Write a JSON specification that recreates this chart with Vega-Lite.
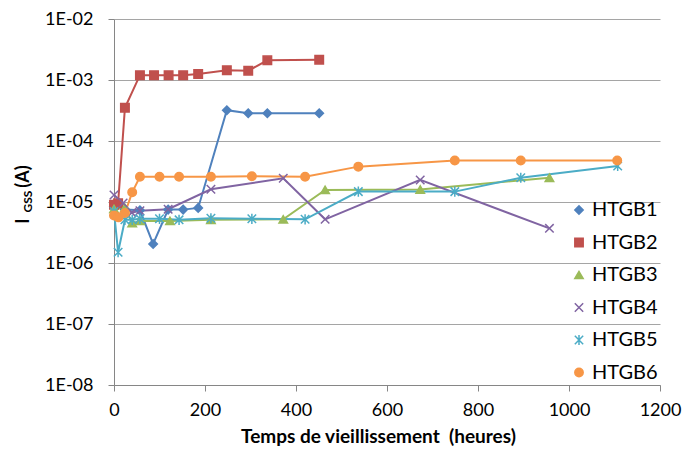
{
  "$schema": "https://vega.github.io/schema/vega-lite/v6.json",
  "width": 546,
  "height": 366,
  "autosize": {"type": "none"},
  "padding": {"left": 114, "top": 19, "right": 24, "bottom": 65},
  "background": "white",
  "config": {
    "view": {"stroke": null},
    "font": "Lato"
  },
  "data": {
    "values": [
      {"s": "HTGB1", "h": 0, "v": 8.5e-6},
      {"s": "HTGB1", "h": 24, "v": 7.5e-6},
      {"s": "HTGB1", "h": 57, "v": 7.3e-6},
      {"s": "HTGB1", "h": 86, "v": 2.05e-6},
      {"s": "HTGB1", "h": 119, "v": 7.5e-6},
      {"s": "HTGB1", "h": 152, "v": 7.5e-6},
      {"s": "HTGB1", "h": 185, "v": 8e-6},
      {"s": "HTGB1", "h": 248, "v": 3.2e-4},
      {"s": "HTGB1", "h": 295, "v": 2.85e-4},
      {"s": "HTGB1", "h": 337, "v": 2.85e-4},
      {"s": "HTGB1", "h": 451, "v": 2.85e-4},
      {"s": "HTGB2", "h": 0, "v": 9e-6},
      {"s": "HTGB2", "h": 9, "v": 9.5e-6},
      {"s": "HTGB2", "h": 24, "v": 3.5e-4},
      {"s": "HTGB2", "h": 57, "v": 1.2e-3},
      {"s": "HTGB2", "h": 88, "v": 1.2e-3},
      {"s": "HTGB2", "h": 120, "v": 1.2e-3},
      {"s": "HTGB2", "h": 152, "v": 1.2e-3},
      {"s": "HTGB2", "h": 185, "v": 1.25e-3},
      {"s": "HTGB2", "h": 248, "v": 1.45e-3},
      {"s": "HTGB2", "h": 295, "v": 1.42e-3},
      {"s": "HTGB2", "h": 337, "v": 2.1e-3},
      {"s": "HTGB2", "h": 451, "v": 2.15e-3},
      {"s": "HTGB3", "h": 0, "v": 7.7e-6},
      {"s": "HTGB3", "h": 24, "v": 8e-6},
      {"s": "HTGB3", "h": 40, "v": 4.5e-6},
      {"s": "HTGB3", "h": 57, "v": 4.9e-6},
      {"s": "HTGB3", "h": 123, "v": 4.9e-6},
      {"s": "HTGB3", "h": 213, "v": 5.1e-6},
      {"s": "HTGB3", "h": 372, "v": 5.2e-6},
      {"s": "HTGB3", "h": 464, "v": 1.58e-5},
      {"s": "HTGB3", "h": 673, "v": 1.6e-5},
      {"s": "HTGB3", "h": 957, "v": 2.5e-5},
      {"s": "HTGB4", "h": 0, "v": 1.3e-5},
      {"s": "HTGB4", "h": 20, "v": 9.6e-6},
      {"s": "HTGB4", "h": 39, "v": 6.7e-6},
      {"s": "HTGB4", "h": 57, "v": 7.2e-6},
      {"s": "HTGB4", "h": 119, "v": 7.6e-6},
      {"s": "HTGB4", "h": 213, "v": 1.62e-5},
      {"s": "HTGB4", "h": 372, "v": 2.45e-5},
      {"s": "HTGB4", "h": 464, "v": 5.2e-6},
      {"s": "HTGB4", "h": 673, "v": 2.3e-5},
      {"s": "HTGB4", "h": 957, "v": 3.7e-6},
      {"s": "HTGB5", "h": 0, "v": 7e-6},
      {"s": "HTGB5", "h": 9, "v": 1.5e-6},
      {"s": "HTGB5", "h": 24, "v": 5.1e-6},
      {"s": "HTGB5", "h": 40, "v": 5.1e-6},
      {"s": "HTGB5", "h": 57, "v": 5.3e-6},
      {"s": "HTGB5", "h": 100, "v": 5.3e-6},
      {"s": "HTGB5", "h": 143, "v": 5.1e-6},
      {"s": "HTGB5", "h": 213, "v": 5.4e-6},
      {"s": "HTGB5", "h": 303, "v": 5.3e-6},
      {"s": "HTGB5", "h": 420, "v": 5.2e-6},
      {"s": "HTGB5", "h": 537, "v": 1.48e-5},
      {"s": "HTGB5", "h": 749, "v": 1.48e-5},
      {"s": "HTGB5", "h": 894, "v": 2.5e-5},
      {"s": "HTGB5", "h": 1107, "v": 3.9e-5},
      {"s": "HTGB6", "h": 0, "v": 6e-6},
      {"s": "HTGB6", "h": 10, "v": 5.6e-6},
      {"s": "HTGB6", "h": 24, "v": 6.6e-6},
      {"s": "HTGB6", "h": 40, "v": 1.44e-5},
      {"s": "HTGB6", "h": 57, "v": 2.6e-5},
      {"s": "HTGB6", "h": 100, "v": 2.6e-5},
      {"s": "HTGB6", "h": 143, "v": 2.6e-5},
      {"s": "HTGB6", "h": 213, "v": 2.6e-5},
      {"s": "HTGB6", "h": 303, "v": 2.65e-5},
      {"s": "HTGB6", "h": 420, "v": 2.6e-5},
      {"s": "HTGB6", "h": 537, "v": 3.8e-5},
      {"s": "HTGB6", "h": 749, "v": 4.8e-5},
      {"s": "HTGB6", "h": 894, "v": 4.8e-5},
      {"s": "HTGB6", "h": 1106, "v": 4.8e-5}
    ]
  },
  "encoding": {
    "x": {
      "field": "h",
      "type": "quantitative",
      "scale": {"domain": [0, 1200], "nice": false},
      "axis": {
        "values": [0, 200, 400, 600, 800, 1000, 1200],
        "format": "d",
        "grid": false,
        "title": "Temps de vieillissement\u00a0 (heures)",
        "titleFontSize": 19,
        "titleFontWeight": "bold",
        "titleColor": "black",
        "titleX": 264,
        "titleY": 51,
        "titleAlign": "center",
        "titleBaseline": "middle",
        "labelFontSize": 18,
        "labelColor": "black",
        "labelPadding": 10,
        "labelFlush": false,
        "tickSize": 6,
        "tickColor": "#868686",
        "domainColor": "#868686"
      }
    },
    "color": {
      "field": "s",
      "type": "nominal",
      "scale": {
        "domain": ["HTGB1", "HTGB2", "HTGB3", "HTGB4", "HTGB5", "HTGB6"],
        "range": ["#4F81BD", "#C0504D", "#9BBB59", "#8064A2", "#4BACC6", "#F79646"]
      },
      "legend": {
        "orient": "none",
        "legendX": 455,
        "legendY": 181,
        "title": null,
        "labelFontSize": 20,
        "labelColor": "black",
        "symbolSize": 70,
        "rowPadding": 12.5,
        "labelOffset": 3,
        "symbolStrokeWidth": 1.5
      }
    }
  },
  "layer": [
    {
      "mark": {"type": "line", "strokeWidth": 2},
      "encoding": {
        "y": {
          "field": "v",
          "type": "quantitative",
          "scale": {"type": "log", "domain": [1e-8, 1e-2], "nice": false},
          "axis": {
            "orient": "left",
            "values": [1e-8, 1e-7, 1e-6, 1e-5, 1e-4, 1e-3, 1e-2],
            "labelExpr": "'1E-0' + format(-log(datum.value)/LN10, '.0f')",
            "grid": true,
            "gridColor": "#a5a5a5",
            "domainColor": "#868686",
            "tickColor": "#868686",
            "tickSize": 6,
            "labelFontSize": 18,
            "labelColor": "black",
            "labelPadding": 15,
            "title": "I\u00a0\u00a0\u00a0\u00a0\u00a0\u00a0\u00a0(A)",
            "titleFontSize": 18,
            "titleFontWeight": "bold",
            "titleColor": "black",
            "titleAngle": -90,
            "titleX": -91,
            "titleY": 175,
            "titleAlign": "center",
            "titleBaseline": "middle"
          }
        }
      }
    },
    {
      "mark": {"type": "point", "filled": false, "size": 72, "strokeWidth": 1.5, "opacity": 1},
      "encoding": {
        "y": {
          "field": "v",
          "type": "quantitative",
          "scale": {"type": "log", "domain": [1e-8, 1e-2], "nice": false},
          "axis": {
            "orient": "left",
            "labels": false,
            "ticks": false,
            "domain": false,
            "grid": false,
            "title": "GSS",
            "titleFontSize": 12,
            "titleFontWeight": "bold",
            "titleColor": "black",
            "titleAngle": -90,
            "titleX": -87,
            "titleY": 182,
            "titleAlign": "center",
            "titleBaseline": "middle"
          }
        },
        "shape": {
          "field": "s",
          "type": "nominal",
          "scale": {
            "domain": ["HTGB1", "HTGB2", "HTGB3", "HTGB4", "HTGB5", "HTGB6"],
            "range": ["diamond", "square", "triangle-up", "M-1,-1L1,1M1,-1L-1,1", "M-1,-1L1,1M1,-1L-1,1M0,-1.2L0,1.2", "circle"]
          }
        },
        "fill": {
          "field": "s",
          "type": "nominal",
          "scale": {
            "domain": ["HTGB1", "HTGB2", "HTGB3", "HTGB4", "HTGB5", "HTGB6"],
            "range": ["#4F81BD", "#C0504D", "#9BBB59", "#8064A2", "#4BACC6", "#F79646"]
          }
        }
      }
    }
  ],
  "resolve": {"axis": {"y": "independent"}}
}
